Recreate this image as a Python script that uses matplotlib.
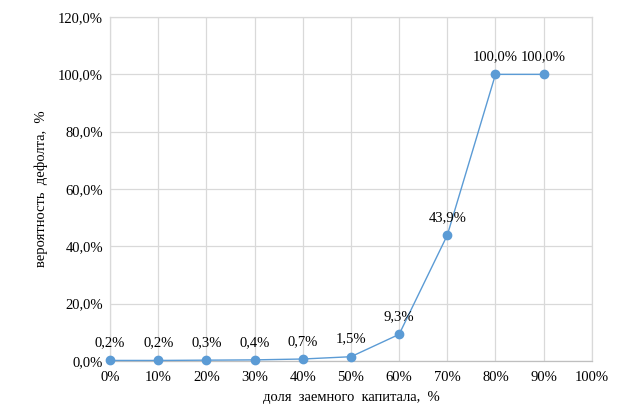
import numpy as np
import matplotlib.pyplot as plt
from matplotlib.ticker import FuncFormatter

# shares of borrowed capital (%) and default probability (%)
debt_share = [0, 10, 20, 30, 40, 50, 60, 70, 80, 90]
default_prob = [0.2, 0.2, 0.3, 0.4, 0.7, 1.5, 9.3, 43.9, 100.0, 100.0]
point_labels = ['0,2%', '0,2%', '0,3%', '0,4%', '0,7%', '1,5%', '9,3%', '43,9%', '100,0%', '100,0%']

plt.rcParams['font.family'] = ['Liberation Serif', 'DejaVu Serif']
plt.rcParams['font.size'] = 10.5

fig = plt.figure(figsize=(6.23, 4.05), dpi=100)
ax = fig.add_axes([0.1766, 0.1086, 0.7734, 0.8494])

line_color = '#5B9BD5'
ax.plot(debt_share, default_prob, color=line_color, lw=1.0, marker='o',
        markersize=6, zorder=3, clip_on=False)

for x, y, lab in zip(debt_share, default_prob, point_labels):
    ax.annotate(lab, (x, y), xytext=(0, 8), textcoords='offset points',
                ha='center', va='bottom', color='#000000')

ax.set_xlim(0, 100)
ax.set_ylim(0, 120)
ax.set_xticks(np.arange(0, 101, 10))
ax.set_yticks(np.arange(0, 121, 20))
ax.xaxis.set_major_formatter(FuncFormatter(lambda v, p: f'{int(v)}%'))
ax.yaxis.set_major_formatter(FuncFormatter(lambda v, p: f'{v:.1f}%'.replace('.', ',')))

ax.grid(True, color='#D9D9D9', lw=0.9)
ax.set_axisbelow(True)
for s in ax.spines.values():
    s.set_color('#D9D9D9')
    s.set_linewidth(0.9)
ax.spines['bottom'].set_color('#BFBFBF')
ax.tick_params(length=0, pad=7)
ax.tick_params(axis='y', pad=5)

ax.set_xlabel('доля  заемного  капитала,  %', labelpad=5)
ax.set_ylabel('вероятность  дефолта,  %', labelpad=7)

fig.savefig('out.png', dpi=100)
